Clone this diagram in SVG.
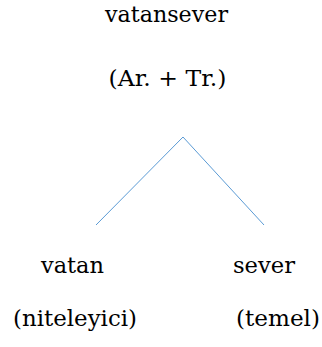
<svg xmlns="http://www.w3.org/2000/svg" width="322" height="347" viewBox="0 0 322 347">
<style>
text{font-family:"DejaVu Serif","Liberation Serif",serif;font-size:21.5px;fill:#000;text-anchor:middle}
.c{stroke:#5B9BD5;stroke-width:1;fill:none}
</style>
<rect width="322" height="347" fill="#fff"/>
<g id="connectors">
<polyline class="c" points="96,225 183,137 264,225"/>
</g>
<g id="root">
<text x="166.5" y="22" textLength="123" lengthAdjust="spacingAndGlyphs">vatansever</text>
<text x="167.5" y="86" textLength="118" lengthAdjust="spacingAndGlyphs">(Ar. + Tr.)</text>
</g>
<g id="left">
<text x="72.5" y="273" textLength="63" lengthAdjust="spacingAndGlyphs">vatan</text>
<text x="75" y="326" textLength="124" lengthAdjust="spacingAndGlyphs">(niteleyici)</text>
</g>
<g id="right">
<text x="264" y="273" textLength="62" lengthAdjust="spacingAndGlyphs">sever</text>
<text x="278" y="326" textLength="84" lengthAdjust="spacingAndGlyphs">(temel)</text>
</g>
</svg>
